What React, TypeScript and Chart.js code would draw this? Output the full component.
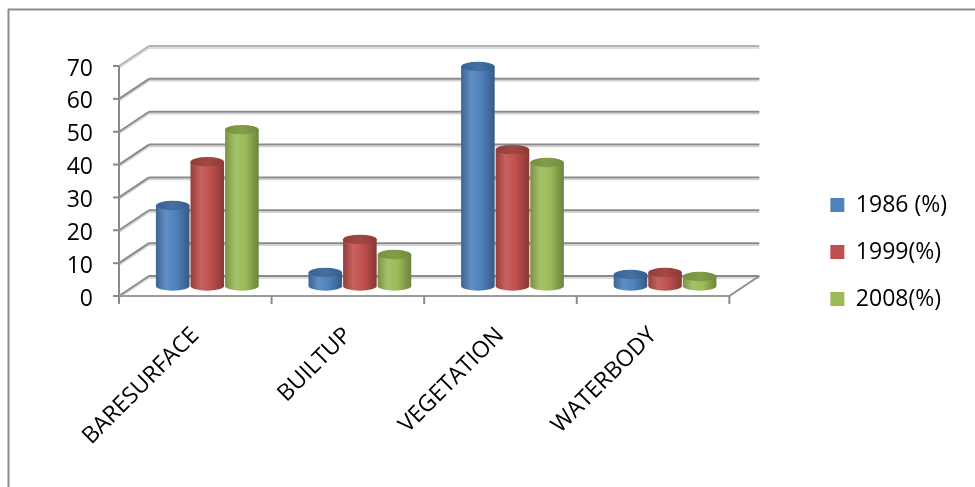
import React, { useEffect, useRef } from 'react';
import { Chart, registerables } from 'chart.js';

Chart.register(...registerables);

const categories = ['BARESURFACE', 'BUILTUP', 'VEGETATION', 'WATERBODY'];
const seriesNames = ['1986 (%)', '1999(%)', '2008(%)'];
const values1986 = [24.5, 4.1, 66.8, 3.5];
const values1999 = [37.8, 14.2, 41.5, 4.1];
const values2008 = [47.6, 9.6, 37.6, 2.9];
const yTickValues = [0, 10, 20, 30, 40, 50, 60, 70];

const seriesColors = ['#4F81BD', '#C0504D', '#9BBB59'];
const topColors = ['#3b679c', '#9c3d3a', '#7b983f'];

const FONT = '"Open Sans", sans-serif';
const FONT_SIZE = 23;
const FRONT = { dx: -12, dy: 10 };
const BACK = { dx: 18, dy: -10 };
const GRID = '#8a8a8a';
const GRID_LIGHT = '#d2d2d2';

function shade(hex: string, f: number) {
  const n = parseInt(hex.slice(1), 16);
  const r = (n >> 16) & 255, g = (n >> 8) & 255, b = n & 255;
  const adj = (c: number) => (f >= 0 ? Math.round(c + (255 - c) * f) : Math.round(c * (1 + f)));
  return `rgb(${adj(r)},${adj(g)},${adj(b)})`;
}

function line(ctx: CanvasRenderingContext2D, x1: number, y1: number, x2: number, y2: number, color: string, w: number) {
  ctx.beginPath();
  ctx.strokeStyle = color;
  ctx.lineWidth = w;
  ctx.moveTo(x1, y1);
  ctx.lineTo(x2, y2);
  ctx.stroke();
}

const grid3d = {
  id: 'grid3d',
  beforeDraw(chart: any) {
    const { ctx, width, height } = chart;
    ctx.save();
    line(ctx, 8, 9.5, width, 9.5, '#8c8c8c', 2);
    line(ctx, 8.5, 9, 8.5, height, '#8c8c8c', 2);
    ctx.restore();
  },
  beforeDatasetsDraw(chart: any) {
    const { ctx, chartArea, scales } = chart;
    const { left, right } = chartArea;
    const y = scales.y;
    ctx.save();
    yTickValues.forEach((v, i) => {
      const py = y.getPixelForValue(v);
      const top = i === yTickValues.length - 1;
      line(ctx, left + FRONT.dx, py + FRONT.dy + 2, left + BACK.dx, py + BACK.dy + 2, GRID_LIGHT, 1.5);
      line(ctx, left + BACK.dx, py + BACK.dy + 2, right + BACK.dx, py + BACK.dy + 2, GRID_LIGHT, 1.5);
      const c = top ? '#b4b4b4' : GRID;
      line(ctx, left + FRONT.dx, py + FRONT.dy, left + BACK.dx, py + BACK.dy, c, 2);
      line(ctx, left + BACK.dx, py + BACK.dy, right + BACK.dx, py + BACK.dy, c, 2);
      line(ctx, left + FRONT.dx - 6, py + FRONT.dy, left + FRONT.dx, py + FRONT.dy, GRID, 2);
    });
    const p0 = y.getPixelForValue(0);
    const p70 = y.getPixelForValue(yTickValues[yTickValues.length - 1]);
    line(ctx, left + FRONT.dx, p70 + FRONT.dy, left + FRONT.dx, p0 + FRONT.dy + 1, GRID, 2);
    line(ctx, left + FRONT.dx, p0 + FRONT.dy, right + FRONT.dx, p0 + FRONT.dy, '#9a9a9a', 2);
    line(ctx, right + FRONT.dx, p0 + FRONT.dy, right + BACK.dx, p0 + BACK.dy, GRID, 2);
    const n = categories.length;
    for (let i = 0; i <= n; i++) {
      const px = left + FRONT.dx + (i * (right - left)) / n;
      line(ctx, px, p0 + FRONT.dy, px, p0 + FRONT.dy + 8, GRID, 2);
    }
    ctx.restore();
  },
  beforeDatasetDraw(chart: any, args: any) {
    const { ctx } = chart;
    const idx = args.index;
    const base = seriesColors[idx];
    ctx.save();
    args.meta.data.forEach((el: any) => {
      const p = el.getProps(['x', 'y', 'base', 'width'], true);
      const rx = p.width / 2 - 0.5;
      const ry = rx * 0.28;
      const cx = p.x;
      const grad = ctx.createLinearGradient(cx - rx, 0, cx + rx, 0);
      grad.addColorStop(0, shade(base, -0.22));
      grad.addColorStop(0.3, shade(base, 0.1));
      grad.addColorStop(0.6, base);
      grad.addColorStop(1, shade(base, -0.3));
      ctx.beginPath();
      ctx.moveTo(cx - rx, p.y);
      ctx.lineTo(cx - rx, p.base);
      ctx.ellipse(cx, p.base, rx, ry, 0, Math.PI, 0, true);
      ctx.lineTo(cx + rx, p.y);
      ctx.closePath();
      ctx.fillStyle = grad;
      ctx.fill();
      const tg = ctx.createLinearGradient(cx - rx, 0, cx + rx, 0);
      tg.addColorStop(0, shade(topColors[idx], -0.05));
      tg.addColorStop(0.5, shade(topColors[idx], 0.06));
      tg.addColorStop(1, shade(topColors[idx], -0.08));
      ctx.beginPath();
      ctx.ellipse(cx, p.y, rx, ry, 0, 0, Math.PI * 2);
      ctx.fillStyle = tg;
      ctx.fill();
    });
    ctx.restore();
    return false;
  },
};

export default function App() {
  const ref = useRef<HTMLCanvasElement | null>(null);
  useEffect(() => {
    document.body.style.margin = '0';
    const canvas = ref.current!;
    const chart = new Chart(canvas, {
      type: 'bar',
      data: {
        labels: categories,
        datasets: [
          { label: seriesNames[0], data: values1986, backgroundColor: seriesColors[0] },
          { label: seriesNames[1], data: values1999, backgroundColor: seriesColors[1] },
          { label: seriesNames[2], data: values2008, backgroundColor: seriesColors[2] },
        ],
      },
      options: {
        responsive: false,
        animation: false,
        devicePixelRatio: 1,
        layout: { padding: { top: 17, left: 0, right: 18, bottom: 0 } },
        datasets: { bar: { barPercentage: 1, categoryPercentage: 0.68 } },
        scales: {
          x: {
            grid: { display: false, drawTicks: false },
            border: { display: false },
            ticks: {
              autoSkip: false,
              maxRotation: 45,
              minRotation: 45,
              padding: 36,
              labelOffset: -12,
              color: '#000',
              font: { family: FONT, size: FONT_SIZE },
            },
            afterFit: (s: any) => { s.height = 201; },
          },
          y: {
            min: 0,
            max: 70,
            grid: { display: false, drawTicks: false },
            border: { display: false },
            ticks: {
              stepSize: 10,
              padding: 38,
              labelOffset: 13,
              color: '#000',
              font: { family: FONT, size: FONT_SIZE },
            },
            afterFit: (s: any) => { s.width = 131; },
          },
          yRight: {
            position: 'right',
            min: 0,
            max: 1,
            grid: { display: false, drawTicks: false },
            border: { display: false },
            ticks: { display: false },
            afterFit: (s: any) => { s.width = 65; },
          },
        },
        plugins: {
          title: { display: true, text: '', fullSize: false, font: { size: 10, lineHeight: 1 }, padding: { top: 29, bottom: 0 } },
          tooltip: { enabled: false },
          legend: {
            position: 'right',
            align: 'center',
            labels: {
              boxWidth: 14,
              boxHeight: 14,
              padding: 24,
              color: '#000',
              font: { family: FONT, size: FONT_SIZE },
            },
          },
        },
      },
      plugins: [grid3d],
    } as any);
    return () => chart.destroy();
  }, []);
  return <canvas ref={ref} width={975} height={487} style={{ display: 'block' }} />;
}
